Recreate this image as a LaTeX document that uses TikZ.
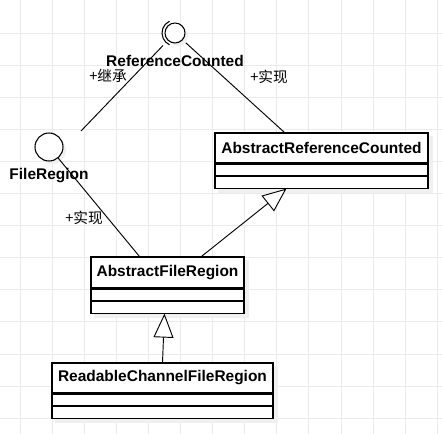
\documentclass[tikz,border=0pt]{standalone}
\usepackage{fontspec}
\setmainfont{Liberation Sans}
\newfontfamily\cjk{Noto Sans CJK SC}
\usetikzlibrary{positioning,calc,arrows.meta,backgrounds}

\tikzset{
  classname/.style={draw=black, line width=0.8pt, fill=white, inner sep=0pt,
    font=\fontsize{11.6}{14}\selectfont\bfseries},
  slot/.style={draw=black, line width=0.8pt, fill=white, inner sep=0pt, minimum height=8.6pt},
  iface/.style={circle, draw=black, line width=0.8pt, fill=white, inner sep=0pt},
  ifacename/.style={font=\fontsize{11.6}{14}\selectfont\bfseries, inner sep=0pt},
  relname/.style={font=\cjk\fontsize{11}{13}\selectfont, inner sep=0pt},
  realize/.style={-{Triangle[fill=white, length=18pt, width=15pt]}, line width=0.7pt},
  link/.style={line width=0.7pt},
  shade/.style={fill=black!6},
  gridline/.style={draw=black!8, line width=0.7pt}
}

\begin{document}
\begin{tikzpicture}[x=0.75pt,y=0.75pt]
\useasboundingbox (0,0) rectangle (442,-434);
% interfaces
\node[iface, minimum size=15pt] (rc) at (175,-33) {};
\draw[line width=0.8pt] ([shift={(115:13)}]rc.center) arc[start angle=115, end angle=245, radius=13];
\node[iface, minimum size=21pt] (fr) at (49,-147) {};
% classes
\node[classname, minimum width=159.75pt, minimum height=22.5pt] (arc) at (321.5,-148) {AbstractReferenceCounted};
\node[slot, minimum width=159.75pt, below=0pt of arc] (arc1) {};
\node[slot, minimum width=159.75pt, below=0pt of arc1] (arc2) {};
\node[classname, minimum width=114.75pt, minimum height=23.25pt] (afr) at (167.5,-272.5) {AbstractFileRegion};
\node[slot, minimum width=114.75pt, below=0pt of afr] (afr1) {};
\node[slot, minimum width=114.75pt, below=0pt of afr1] (afr2) {};
\node[classname, minimum width=165.75pt, minimum height=22.5pt] (rcfr) at (162.5,-378) {ReadableChannelFileRegion};
\node[slot, minimum width=165.75pt, below=0pt of rcfr] (rcfr1) {};
\node[slot, minimum width=165.75pt, below=0pt of rcfr1] (rcfr2) {};
% relations
\coordinate (frtop) at (81,-131);
\draw[link, shorten <=5pt] (rc) -- (frtop);
\draw[link, shorten <=3pt] (rc) -- ($(arc.north west)+(70,0)$);
\draw[link] (fr) -- ($(afr.north west)+(49,0)$);
\draw[realize] ($(afr.north west)+(111,0)$) -- ($(arc2.south west)+(72,0)$);
\draw[realize] (rcfr.north) -- ($(afr2.south west)+(74,0)$);
% labels
\node[ifacename] (rcname) at (175,-61) {ReferenceCounted};
\node[ifacename] (frname) at (49,-176) {FileRegion};
\node[relname] (inherit) at (108,-76) {+继承};
\node[relname] (impl1) at (269,-77) {+实现};
\node[relname] (impl2) at (84,-218) {+实现};
% grid and shadows
\begin{pgfonlayer}{background}
\fill[white] (0,0) rectangle (442,-434);
\foreach \k in {0,...,13}
  \draw[gridline] (20+32.1*\k,0) -- (20+32.1*\k,-434);
\foreach \k in {0,...,12}
  \draw[gridline] (0,-33-32.1*\k) -- (442,-33-32.1*\k);
\fill[shade] ($(arc.north west)+(4,-4)$) rectangle ($(arc2.south east)+(4,-4)$);
\fill[shade] ($(afr.north west)+(4,-4)$) rectangle ($(afr2.south east)+(4,-4)$);
\fill[shade] ($(rcfr.north west)+(4,-4)$) rectangle ($(rcfr2.south east)+(4,-4)$);
\fill[shade] ($(rc)+(3,-3)$) circle[radius=10];
\fill[shade] ($(fr)+(3,-3)$) circle[radius=14];
\end{pgfonlayer}
\end{tikzpicture}
\end{document}
